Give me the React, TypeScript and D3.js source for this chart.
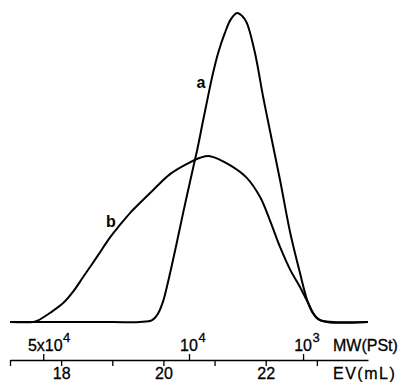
import * as d3 from "d3";
import { useEffect, useRef } from "react";

const WIDTH = 398;
const HEIGHT = 382;
const X_RANGE = [10, 368];
const BASE_Y = 322;
const TOP_Y = 12;
const AXIS_Y = 360;
const FONT = "'Liberation Sans', Arial, sans-serif";

// elution volume axis
const evDomain = [17, 24];
const evTicks = [17, 18, 19, 20, 21, 22, 23];
const evLabelled = [18, 20, 22];

// polystyrene calibration marks
const mwTickEV = [17.65, 20.5, 22.73];
const mwBase = ["5x10", "10", "10"];
const mwExp = ["4", "4", "3"];

// trace a
const evA = [17.0, 19.0, 19.54, 19.78, 19.89, 19.99, 20.09, 20.23, 20.38, 20.58, 20.66, 20.77, 20.87, 20.97, 21.07, 21.2, 21.32, 21.44, 21.54, 21.63, 21.79, 21.95, 22.12, 22.28, 22.48, 22.67, 22.81, 22.91, 23.06, 23.32, 24.0];
const hA = [0, 0, 0, 0.6, 2.6, 6.5, 12.9, 23.2, 34.8, 49.7, 55.5, 64.5, 72.6, 80.3, 86.8, 93.2, 97.7, 99.7, 98.7, 96.5, 86.8, 72.6, 58.7, 45.8, 28.7, 15.8, 7.1, 3.2, 0.6, 0, 0];

// trace b
const evB = [17.0, 17.45, 17.55, 17.78, 18.04, 18.23, 18.43, 18.7, 18.96, 19.15, 19.35, 19.48, 19.8, 20.13, 20.46, 20.72, 20.91, 21.3, 21.63, 21.89, 22.08, 22.28, 22.48, 22.67, 22.83, 23.0, 23.2, 24.0];
const hB = [0, 0, 0.5, 2.9, 6.1, 9.7, 14.5, 21.0, 27.4, 31.3, 35.2, 37.4, 42.6, 47.7, 51.0, 53.0, 53.5, 50.6, 46.5, 40.3, 32.9, 24.2, 16.8, 11.3, 6.1, 1.3, 0, 0];

export default function App() {
  const ref = useRef<SVGSVGElement>(null);

  useEffect(() => {
    const svg = d3.select(ref.current);
    svg.selectAll("*").remove();

    const x = d3.scaleLinear().domain(evDomain).range(X_RANGE);
    const y = d3.scaleLinear().domain([0, 100]).range([BASE_Y, TOP_Y]);

    const line = d3
      .line<[number, number]>()
      .x((d) => x(d[0]))
      .y((d) => y(d[1]))
      .curve(d3.curveCatmullRom.alpha(0.5));

    const traces = [
      evA.map((v, i) => [v, hA[i]] as [number, number]),
      evB.map((v, i) => [v, hB[i]] as [number, number]),
    ];

    svg
      .selectAll("path.trace")
      .data(traces)
      .join("path")
      .attr("class", "trace")
      .attr("d", (d) => line(d))
      .attr("fill", "none")
      .attr("stroke", "#000")
      .attr("stroke-width", 2)
      .attr("stroke-linejoin", "round");

    // curve labels
    svg
      .append("text")
      .attr("x", 201)
      .attr("y", 88)
      .attr("text-anchor", "middle")
      .attr("font-family", FONT)
      .attr("font-size", 16)
      .attr("font-weight", "bold")
      .text("a");
    svg
      .append("text")
      .attr("x", 111)
      .attr("y", 227)
      .attr("text-anchor", "middle")
      .attr("font-family", FONT)
      .attr("font-size", 16)
      .attr("font-weight", "bold")
      .text("b");

    // EV axis
    const evAxis = svg
      .append("g")
      .attr("transform", `translate(0, ${AXIS_Y})`)
      .call(
        d3
          .axisBottom(x)
          .tickValues(evTicks)
          .tickSize(6)
          .tickSizeOuter(0)
          .tickPadding(2)
          .tickFormat((d) => (evLabelled.includes(d as number) ? String(d) : ""))
      );
    evAxis.select(".domain").attr("stroke-width", 1.5);
    evAxis.selectAll(".tick line").attr("stroke-width", 1.3);
    evAxis
      .selectAll(".tick text")
      .attr("font-family", FONT)
      .attr("font-size", 16)
      .attr("fill", "#000")
      .attr("stroke", "#000")
      .attr("stroke-width", 0.3);

    // MW ticks (upwards)
    const mwAxis = svg
      .append("g")
      .attr("transform", `translate(0, ${AXIS_Y})`)
      .call(d3.axisTop(x).tickValues(mwTickEV).tickSize(6).tickFormat(() => ""));
    mwAxis.select(".domain").remove();
    mwAxis.selectAll(".tick line").attr("stroke-width", 1.3);

    mwTickEV.forEach((v, i) => {
      const g = svg.append("g").attr("stroke", "#000").attr("stroke-width", 0.3);
      const base = g
        .append("text")
        .attr("y", 351)
        .attr("font-family", FONT)
        .attr("font-size", 16)
        .text(mwBase[i]);
      const w = (base.node() as SVGTextElement).getComputedTextLength();
      const cx = i === 0 ? x(v) - w / 2 + 2 : x(v) - w / 2;
      base.attr("x", cx);
      g.append("text")
        .attr("x", cx + w + 0.5)
        .attr("y", 342)
        .attr("font-family", FONT)
        .attr("font-size", 13)
        .text(mwExp[i]);
    });

    // axis titles
    svg
      .append("text")
      .attr("x", 333)
      .attr("y", 351)
      .attr("font-family", FONT)
      .attr("font-size", 16)
      .attr("stroke", "#000")
      .attr("stroke-width", 0.3)
      .text("MW(PSt)");
    svg
      .append("text")
      .attr("x", 333)
      .attr("y", 379)
      .attr("font-family", FONT)
      .attr("font-size", 16)
      .attr("letter-spacing", 1.5)
      .attr("stroke", "#000")
      .attr("stroke-width", 0.3)
      .text("EV(mL)");
  }, []);

  return (
    <svg
      ref={ref}
      width={WIDTH}
      height={HEIGHT}
      style={{ position: "absolute", left: 0, top: 0, background: "#fff" }}
    />
  );
}
